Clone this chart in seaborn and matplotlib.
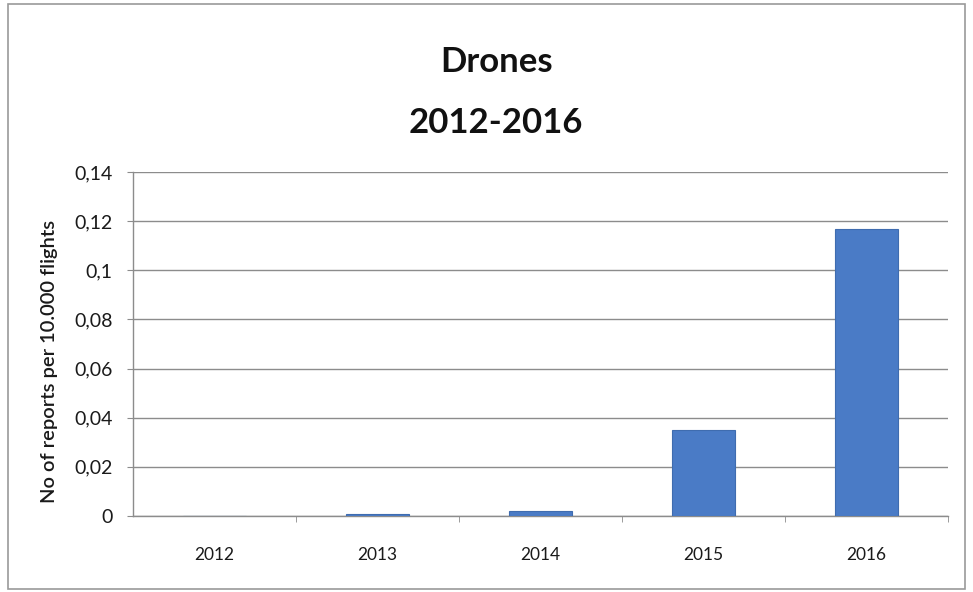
import matplotlib
matplotlib.use("Agg")
import matplotlib.pyplot as plt
import seaborn as sns
import pandas as pd
from matplotlib.patches import Rectangle
from matplotlib.ticker import FixedLocator

years = ["2012", "2013", "2014", "2015", "2016"]
reports = [0.0, 0.0008, 0.002, 0.035, 0.117]
yticks = [0, 0.02, 0.04, 0.06, 0.08, 0.10, 0.12, 0.14]
ytick_labels = ["0", "0,02", "0,04", "0,06", "0,08", "0,1", "0,12", "0,14"]

sns.set_style("white")
plt.rcParams['font.family'] = ['Lato', 'DejaVu Sans']

df = pd.DataFrame({"year": years, "value": reports})

fig = plt.figure(figsize=(9.73, 5.92), dpi=100)
ax = fig.add_axes([133/973, 1-516/592, (948-133)/973, (516-172)/592])

sns.barplot(data=df, x="year", y="value", color="#4A7BC6", saturation=1,
            width=0.39, ax=ax, edgecolor="#3F6CAF", linewidth=0.8, zorder=3)

ax.set_xlim(-0.5, 4.5)
ax.set_ylim(0, 0.14)
ax.set_yticks(yticks)
ax.set_yticklabels(ytick_labels)
ax.yaxis.grid(True, color="#8C8C8C", linewidth=1)
ax.set_axisbelow(True)

for s in ["top", "right"]:
    ax.spines[s].set_visible(False)
for s in ["left", "bottom"]:
    ax.spines[s].set_color("#8C8C8C")
    ax.spines[s].set_linewidth(1)

ax.tick_params(axis="y", which="major", direction="out", length=4.5, color="#8C8C8C",
               labelsize=14, labelcolor="#1a1a1a", pad=10, left=True)
ax.tick_params(axis="x", which="major", length=0, labelsize=12.5, labelcolor="#1a1a1a", pad=22)
ax.xaxis.set_minor_locator(FixedLocator([0.5, 1.5, 2.5, 3.5, 4.5]))
ax.tick_params(axis="x", which="minor", direction="out", length=4.5, color="#8C8C8C", bottom=True)

ax.set_xlabel("")
ax.set_ylabel("No of reports per 10.000 flights", fontsize=14.5, fontweight="semibold",
              color="#1a1a1a")
ax.yaxis.set_label_coords(-(133-58)/815, 0.448)

fig.text(0.510, 1-62/592, "Drones", ha="center", va="center", fontsize=25, fontweight="bold", color="#111111")
fig.text(0.510, 1-123/592, "2012-2016", ha="center", va="center", fontsize=25, fontweight="bold", color="#111111")

fig.patches.append(Rectangle((8/973, 1-589/592), (965-8)/973, (589-4)/592, transform=fig.transFigure,
                             fill=False, edgecolor="#9A9A9A", linewidth=1.2))

fig.savefig("out.png", dpi=100)
